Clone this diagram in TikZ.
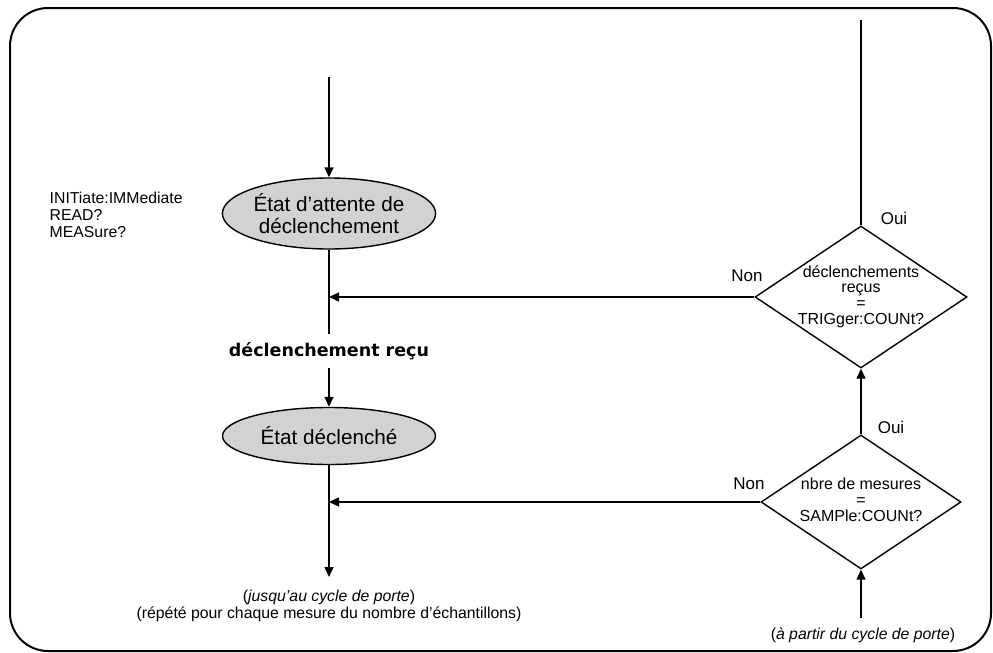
\documentclass[tikz,border=0pt]{standalone}
\usepackage{fontspec}
\setmainfont{Liberation Sans}
\newfontfamily\comicfont{DejaVu Sans}
\usetikzlibrary{shapes.geometric,arrows.meta}
\begin{document}
\begin{tikzpicture}[x=1pt,y=-1pt,
  line width=1.4pt,
  arr/.style={-{Triangle[length=10pt,width=9pt]}},
  state/.style={ellipse,draw,line width=1.4pt,fill=gray!35,inner sep=0pt,minimum width=213pt,align=center,font=\fontsize{20.7}{22.5}\selectfont},
  decis/.style={diamond,draw,line width=1.4pt,inner sep=0pt},
  dtext/.style={align=center,font=\fontsize{16}{15.8}\selectfont,inner sep=0pt},
  small/.style={align=left,font=\fontsize{15.8}{17.2}\selectfont,inner sep=0pt},
  lab/.style={font=\fontsize{17}{17}\selectfont,inner sep=0pt}
]
\useasboundingbox (0,0) rectangle (993,653);
\draw[line width=2pt,rounded corners=38pt] (10,8) rectangle (991,651);

% states
\node[state,minimum height=71pt] (e1) at (329,213.5) {État d’attente de\\déclenchement};
\node[state,minimum height=57pt] (e2) at (329,436) {État déclenché};

\node[inner sep=0pt,minimum height=33pt,font=\comicfont\bfseries\fontsize{17.5}{18}\selectfont] (lbl) at (329,351) {déclenchement reçu};

% decisions
\node[decis,minimum width=212pt,minimum height=142pt] (d1) at (861,297) {};
\node[dtext] (t1) at (861,296.5) {déclenchements\\reçus\\=\\TRIGger:COUNt?};
\node[decis,minimum width=200pt,minimum height=134pt] (d2) at (861,502) {};
\node[dtext] (t2) at (861,500) {nbre de mesures\\=\\SAMPle:COUNt?};

% coordinates
\coordinate (start) at (329,77);
\coordinate (j1) at (329,297);
\coordinate (j2) at (329,502);
\coordinate (endB) at (329,577);
\coordinate (top) at (861,20);
\coordinate (botin) at (861,618);

% connectors
\draw[arr] (start) -- (e1.north);
\draw (e1.south) -- (lbl.north);
\draw[arr] (lbl.south) -- (e2.north);
\draw[arr] (e2.south) -- (endB);
\draw[arr] (d1.west) -- (j1);
\draw[arr] (d2.west) -- (j2);
\draw (d1.north) -- (top);
\draw[arr] (d2.north) -- (d1.south);
\draw[arr] (botin) -- (d2.south);

% labels
\node[small,anchor=west] (cmds) at (49,215) {INITiate:IMMediate\\READ?\\MEASure?};
\node[lab] (oui1) at (894,218) {Oui};
\node[lab] (non1) at (747,276) {Non};
\node[lab] (oui2) at (891,427) {Oui};
\node[lab] (non2) at (749,484) {Non};
\node[small,align=center] (note1) at (329,606) {(\textit{jusqu’au cycle de porte})\\(répété pour chaque mesure du nombre d’échantillons)};
\node[small] (note2) at (863,635) {(\textit{à partir du cycle de porte})};
\end{tikzpicture}
\end{document}
